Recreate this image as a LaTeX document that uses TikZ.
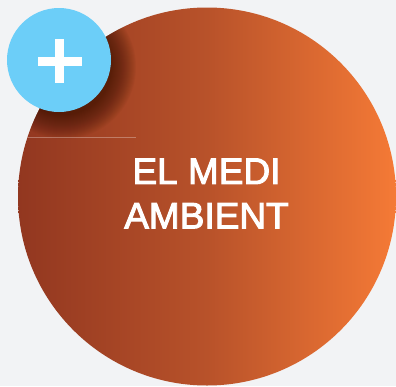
\documentclass[tikz,border=0pt]{standalone}
\usepackage{fontspec}
\setmainfont{Liberation Sans}
\newfontfamily\titlefont[FakeBold=2.6]{Liberation Sans}
\definecolor{bg}{HTML}{F2F3F5}
\definecolor{leftc}{HTML}{923720}
\definecolor{midc}{HTML}{B8522A}
\definecolor{rightc}{HTML}{F57A36}
\definecolor{badge}{HTML}{6CCEF8}
\definecolor{shadowc}{HTML}{3A1205}
\pgfdeclarehorizontalshading{discgrad}{100bp}{color(0bp)=(leftc); color(25bp)=(leftc); color(50bp)=(midc); color(75bp)=(rightc); color(100bp)=(rightc)}
\begin{document}
\begin{tikzpicture}[x=1pt,y=-1pt,
 disc/.style={circle,minimum size=378pt,inner sep=0pt,shading=discgrad},
 badgenode/.style={circle,minimum size=104pt,inner sep=0pt,fill=badge},
 title/.style={text=white,font=\fontsize{37}{44.5}\titlefont,align=center,inner sep=0pt}]
\useasboundingbox (0,0) rectangle (396,386);
\fill[bg] (0,0) rectangle (396,386);
\node[disc] (d) at (207,196.5) {};
\begin{scope}
\clip (207,196.5) circle (189);
\foreach \r in {48,49,...,72}{
  \fill[shadowc,opacity=.04] (64,67) circle (\r);
}
\fill[white,opacity=.3] (0,136.5) rectangle (136,137.2);
\end{scope}
\node[title] (t) at (206.5,193.5) {EL MEDI\\AMBIENT};
\node[badgenode] (b) at (59,60) {};
\fill[white] (37.5,56.5) rectangle (81.5,65.5);
\fill[white] (55,39) rectangle (64,83);
\end{tikzpicture}
\end{document}
